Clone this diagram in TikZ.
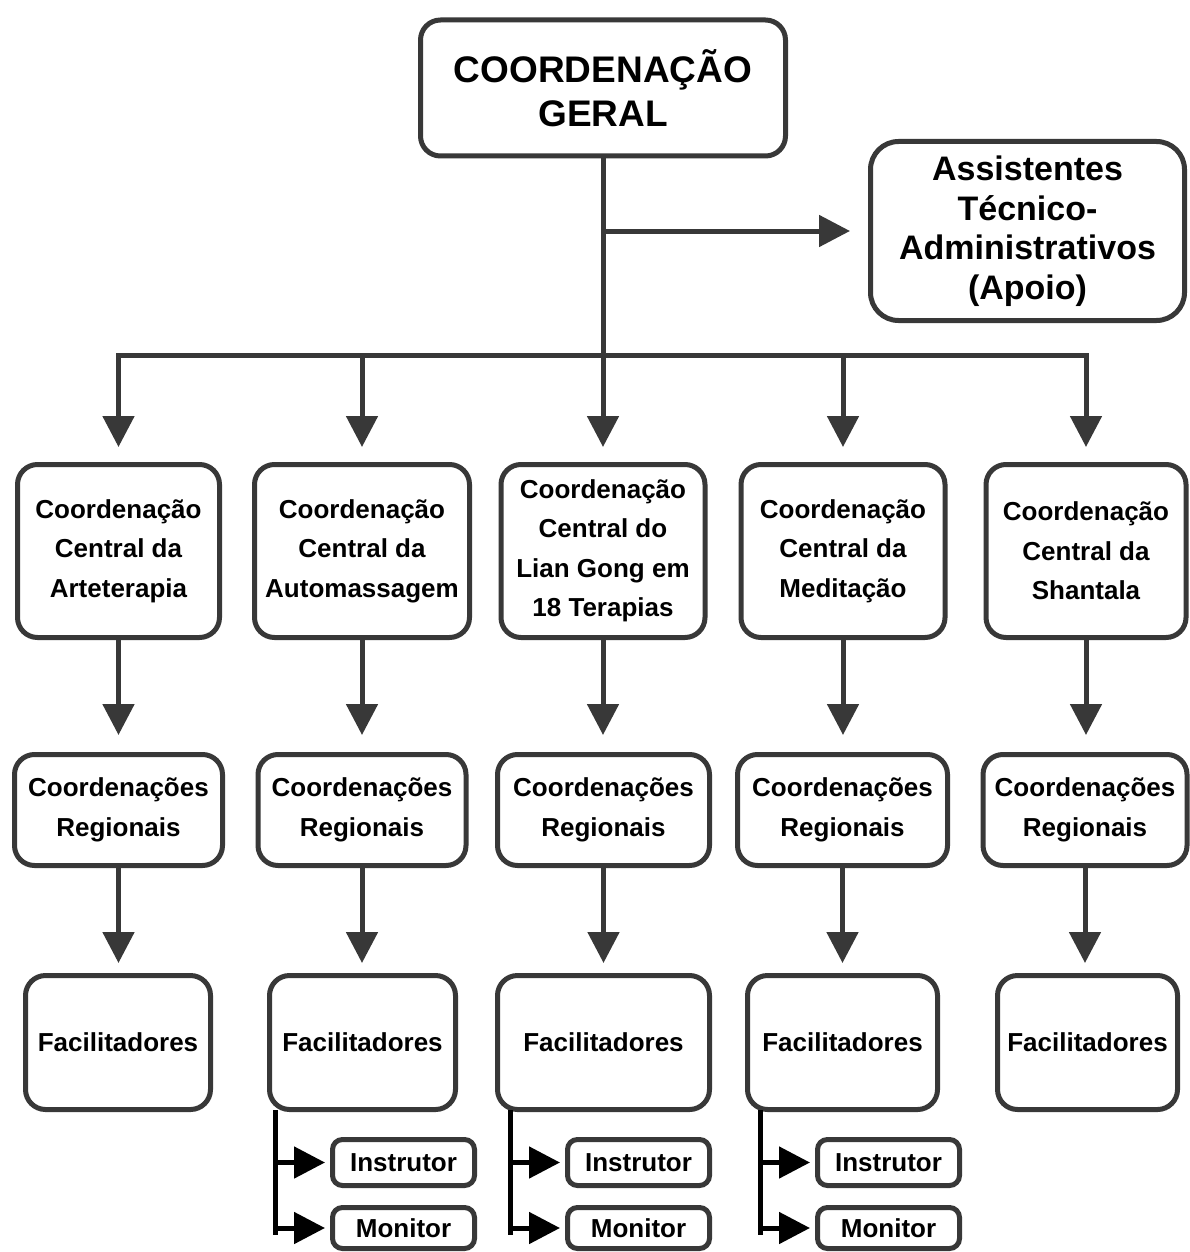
\documentclass[tikz,border=0pt]{standalone}
\usepackage{fontspec}
\setmainfont{Liberation Sans}
\usetikzlibrary{arrows.meta}
\definecolor{edge}{HTML}{383838}
\begin{document}
\begin{tikzpicture}[x=1pt,y=-1pt,line join=miter,
  box/.style={draw=edge, line width=5pt, rounded corners=20pt, fill=white,
    align=center, inner sep=0pt, text=black,
    font=\bfseries\fontsize{26}{39.5}\selectfont},
  smallbox/.style={box, rounded corners=10pt},
  arr/.style={draw=edge, line width=5pt, -{Triangle[length=31pt,width=31pt]}},
  blk/.style={draw=black, line width=5pt, -{Triangle[length=31pt,width=31pt]}}
]
\fill[white] (0,0) rectangle (1189,1252);
\useasboundingbox (0,0) rectangle (1189,1252);

% top level
\node[box, minimum width=365pt, minimum height=136pt,
  font=\bfseries\fontsize{37}{44}\selectfont] (top) at (603,88) {COORDENAÇÃO\\GERAL};
\node[box, rounded corners=28pt, minimum width=314pt, minimum height=179pt,
  font=\bfseries\fontsize{34}{39.5}\selectfont] (asst) at (1027.5,231)
  {Assistentes\\Técnico-\\Administrativos\\(Apoio)};

% central coordinations
\node[box, minimum width=202pt, minimum height=173pt] (r1c1) at (118.5,551) {Coordenação\\Central da\\Arteterapia};
\node[box, minimum width=215pt, minimum height=173pt] (r1c2) at (362,551) {Coordenação\\Central da\\Automassagem};
\node[box, minimum width=204pt, minimum height=173pt] (r1c3) at (603,551) {Coordenação\\Central do\\Lian Gong em\\18 Terapias};
\node[box, minimum width=204pt, minimum height=173pt] (r1c4) at (843,551) {Coordenação\\Central da\\Meditação};
\node[box, minimum width=200pt, minimum height=173pt] (r1c5) at (1086,551) {Coordenação\\Central da\\Shantala};

% regional coordinations
\node[box, minimum width=208pt, minimum height=111pt] (r2c1) at (118.5,810) {Coordenações\\Regionais};
\node[box, minimum width=208pt, minimum height=111pt] (r2c2) at (362,810) {Coordenações\\Regionais};
\node[box, minimum width=212pt, minimum height=111pt] (r2c3) at (603.5,810) {Coordenações\\Regionais};
\node[box, minimum width=210pt, minimum height=111pt] (r2c4) at (842.5,810) {Coordenações\\Regionais};
\node[box, minimum width=204pt, minimum height=111pt] (r2c5) at (1085,810) {Coordenações\\Regionais};

% facilitators
\node[box, minimum width=185pt, minimum height=134pt] (r3c1) at (118,1042.5) {Facilitadores};
\node[box, minimum width=186pt, minimum height=134pt] (r3c2) at (362.5,1042.5) {Facilitadores};
\node[box, minimum width=212pt, minimum height=134pt] (r3c3) at (603.5,1042.5) {Facilitadores};
\node[box, minimum width=190pt, minimum height=134pt] (r3c4) at (842.5,1042.5) {Facilitadores};
\node[box, minimum width=180pt, minimum height=134pt] (r3c5) at (1087.5,1042.5) {Facilitadores};

% instructors and monitors
\node[smallbox, minimum width=142pt, minimum height=46pt] (ins2) at (403.5,1162.5) {Instrutor};
\node[smallbox, minimum width=142pt, minimum height=41pt] (mon2) at (403.5,1228) {Monitor};
\node[smallbox, minimum width=142pt, minimum height=46pt] (ins3) at (638.5,1162.5) {Instrutor};
\node[smallbox, minimum width=142pt, minimum height=41pt] (mon3) at (638.5,1228) {Monitor};
\node[smallbox, minimum width=142pt, minimum height=46pt] (ins4) at (888.5,1162.5) {Instrutor};
\node[smallbox, minimum width=142pt, minimum height=41pt] (mon4) at (888.5,1228) {Monitor};

% distribution bus below the general coordination
\coordinate (bus) at (603,355);
\draw[arr, shorten >=15pt] (top.south) -- (r1c3.north);
\draw[arr, shorten >=18pt] (top.south |- asst.west) -- (asst.west);
\draw[arr, shorten >=15pt] (r1c3.north |- bus) -| (r1c1.north);
\draw[arr, shorten >=15pt] (r1c3.north |- bus) -| (r1c5.north);
\draw[arr, shorten >=15pt] (r1c2.north |- bus) -- (r1c2.north);
\draw[arr, shorten >=15pt] (r1c4.north |- bus) -- (r1c4.north);

% column connectors
\foreach \c in {1,...,5}{
  \draw[arr, shorten >=17pt] (r1c\c.south) -- (r1c\c.south |- r2c\c.north);
  \draw[arr, shorten >=10pt] (r2c\c.south) -- (r2c\c.south |- r3c\c.north);
}

% branches to instructors and monitors
\coordinate (v2) at (275,1110);
\coordinate (v3) at (510,1110);
\coordinate (v4) at (760,1110);
\foreach \c in {2,3,4}{
  \draw[draw=black, line width=5pt] (v\c) -- ++(0,125);
  \draw[blk, shorten >=5pt] (v\c |- ins\c.west) -- (ins\c.west);
  \draw[blk, shorten >=5pt] (v\c |- mon\c.west) -- (mon\c.west);
}
\end{tikzpicture}
\end{document}
